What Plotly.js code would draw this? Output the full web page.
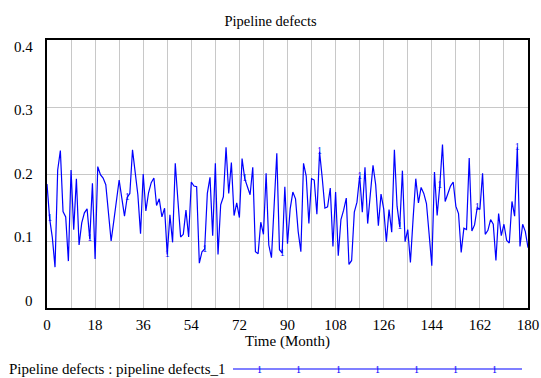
<!DOCTYPE html>
<html>
<head>
<meta charset="utf-8">
<script src="https://cdn.plot.ly/plotly-3.0.1.min.js"></script>
<style>html,body{margin:0;padding:0;background:#fff;}#chart{width:541px;height:378px;}</style>
</head>
<body>
<div id="chart"></div>
<script>
// ---- data ----
const chartTitle = "Pipeline defects";
const xAxisTitle = "Time (Month)";
const seriesName = "Pipeline defects : pipeline defects_1";
const months = [0,1,2,3,4,5,6,7,8,9,10,11,12,13,14,15,16,17,18,19,20,21,22,23,24,25,26,27,28,29,30,31,32,33,34,35,36,37,38,39,40,41,42,43,44,45,46,47,48,49,50,51,52,53,54,55,56,57,58,59,60,61,62,63,64,65,66,67,68,69,70,71,72,73,74,75,76,77,78,79,80,81,82,83,84,85,86,87,88,89,90,91,92,93,94,95,96,97,98,99,100,101,102,103,104,105,106,107,108,109,110,111,112,113,114,115,116,117,118,119,120,121,122,123,124,125,126,127,128,129,130,131,132,133,134,135,136,137,138,139,140,141,142,143,144,145,146,147,148,149,150,151,152,153,154,155,156,157,158,159,160,161,162,163,164,165,166,167,168,169,170,171,172,173,174,175,176,177,178,179,180];
const defects = [
0.185,0.133,0.105,0.061,0.206,0.235,0.144,0.136,0.070,0.206,
0.117,0.193,0.094,0.127,0.142,0.148,0.103,0.186,0.073,0.211,
0.199,0.194,0.184,0.142,0.100,0.130,0.161,0.191,0.164,0.137,
0.165,0.171,0.236,0.204,0.169,0.111,0.200,0.145,0.172,0.187,
0.194,0.153,0.163,0.136,0.149,0.080,0.139,0.098,0.216,0.160,
0.106,0.110,0.146,0.106,0.188,0.182,0.181,0.067,0.084,0.088,
0.171,0.195,0.108,0.216,0.080,0.154,0.166,0.240,0.171,0.217,
0.138,0.157,0.135,0.223,0.193,0.181,0.169,0.210,0.084,0.081,
0.128,0.110,0.201,0.094,0.075,0.153,0.231,0.087,0.082,0.181,
0.096,0.148,0.173,0.163,0.114,0.084,0.216,0.197,0.126,0.193,
0.191,0.140,0.233,0.194,0.149,0.151,0.179,0.092,0.173,0.078,
0.132,0.146,0.164,0.065,0.071,0.143,0.158,0.197,0.143,0.210,
0.126,0.170,0.213,0.184,0.123,0.170,0.148,0.099,0.147,0.113,
0.236,0.152,0.121,0.205,0.099,0.117,0.068,0.133,0.193,0.157,
0.180,0.171,0.156,0.110,0.063,0.203,0.138,0.183,0.244,0.159,
0.169,0.182,0.188,0.152,0.141,0.083,0.119,0.117,0.224,0.115,
0.124,0.150,0.147,0.201,0.110,0.116,0.132,0.125,0.071,0.141,
0.108,0.125,0.101,0.097,0.159,0.137,0.240,0.092,0.125,0.114,
0.090];
const markerMonths = [1,16,30,45,59,74,88,102,117,132,147,161,176];
const xTickVals = [0,9,18,27,36,45,54,63,72,81,90,99,108,117,126,135,144,153,162,171,180];
const xTickText = ["0","","18","","36","","54","","72","","90","","108","","126","","144","","162","","180"];
const yTickVals = [0,0.1,0.2,0.3,0.4];
const yTickText = ["0","0.1","0.2","0.3","0.4"];

// ---- styles ----
const FONT = "Liberation Serif";
const BLUE = "#0000ff";
const W = 541, H = 378, ML = 47, MR = 13, MT = 40, MB = 70;
const pw = W - ML - MR, ph = H - MT - MB;
const px2x = p => (p - ML) / pw;
const px2y = p => (H - MB - p) / ph;

const markerY = markerMonths.map(m => defects[months.indexOf(m)]);

const traces = [
  {x: months, y: defects, type: 'scatter', mode: 'lines',
   line: {color: BLUE, width: 1.2}, hoverinfo: 'skip', showlegend: false},
  {x: markerMonths, y: markerY, type: 'scatter', mode: 'text',
   text: markerMonths.map(() => '1'), textposition: 'middle center',
   textfont: {family: FONT, size: 10, color: BLUE}, hoverinfo: 'skip', showlegend: false}
];

// Vensim-style y labels: spread slightly inside the frame
const yLabelAnnotations = yTickVals.map((v, i) => ({
  text: yTickText[i], xref: 'paper', yref: 'y', x: px2x(35), y: v,
  xanchor: 'right', yanchor: 'middle', showarrow: false,
  yshift: 7.5 - (v / 0.4) * 14.5,
  font: {family: FONT, size: 15, color: '#000'}
}));

const legendLineY = px2y(369);
const legendMarkerPx = [259, 298, 338, 377, 416, 455, 494];
const annotations = [
  {text: seriesName, xref: 'paper', yref: 'paper', x: px2x(7), y: legendLineY,
   xanchor: 'left', yanchor: 'middle', showarrow: false,
   font: {family: FONT, size: 15, color: '#000'}}
].concat(legendMarkerPx.map(p => ({
  text: '1', xref: 'paper', yref: 'paper', x: px2x(p), y: legendLineY,
  xanchor: 'center', yanchor: 'middle', showarrow: false,
  font: {family: FONT, size: 10, color: BLUE}
}))).concat(yLabelAnnotations);

const layout = {
  width: W, height: H,
  margin: {l: ML, r: MR, t: MT, b: MB, pad: 0},
  paper_bgcolor: '#fff', plot_bgcolor: '#fff',
  font: {family: FONT, size: 15, color: '#000'},
  title: {text: chartTitle, font: {family: FONT, size: 14.5, color: '#000'},
          x: 0.5, xanchor: 'center', y: 1 - 21 / H, yanchor: 'middle', yref: 'container'},
  xaxis: {range: [0, 180], tickmode: 'array', tickvals: xTickVals, ticktext: xTickText,
          showgrid: true, gridcolor: '#c8c8c8', gridwidth: 1,
          showline: true, mirror: true, linecolor: '#000', linewidth: 2,
          ticks: '', ticklabelstandoff: 2, zeroline: false,
          tickfont: {family: FONT, size: 15, color: '#000'},
          title: {text: xAxisTitle, font: {family: FONT, size: 15, color: '#000'}, standoff: 3}},
  yaxis: {range: [0, 0.4], tickmode: 'array', tickvals: yTickVals, ticktext: yTickText,
          showgrid: true, gridcolor: '#c8c8c8', gridwidth: 1,
          showline: true, mirror: true, linecolor: '#000', linewidth: 2,
          ticks: '', showticklabels: false, zeroline: false},
  shapes: [
    {type: 'line', xref: 'paper', yref: 'paper', x0: px2x(233), x1: px2x(522),
     y0: legendLineY, y1: legendLineY, line: {color: BLUE, width: 1.2}}
  ],
  annotations: annotations,
  showlegend: false
};

Plotly.newPlot('chart', traces, layout, {staticPlot: true, displayModeBar: false});
</script>
</body>
</html>
